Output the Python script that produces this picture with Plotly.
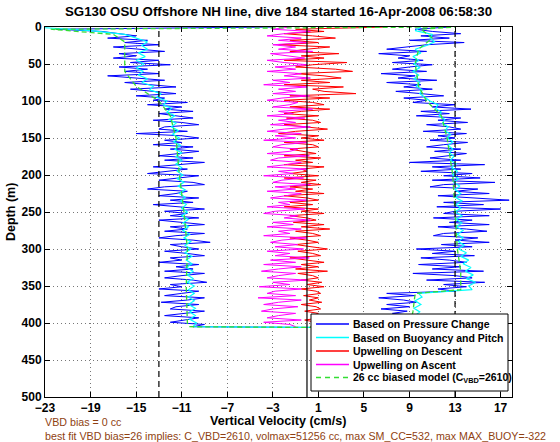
import plotly.graph_objects as go

# ---------------- data ----------------
depth = list(range(0, 406, 3))        # 0..405 m, 136 levels (noisy series)
depth5 = list(range(0, 410, 5))       # 0..405 m, 82 levels (smoother series)

# Based on Pressure Change, descent (cm/s)
blue_desc = [-3, -22, -18, -16.5, -15, -17.5, -14, -16, -13, -17,
             -14.5, -12.5, -16.5, -15, -17, -13, -15.5, -12, -16.5, -14,
             -16, -13, -17.5, -15, -12.5, -16, -14, -11.5, -15.5, -13.5,
             -11.5, -15, -12.5, -13.5, -10.5, -14, -11, -12.5, -10, -13,
             -11.5, -10, -13.5, -11, -9.5, -12.5, -13, -10.5, -15, -11,
             -9.5, -12.5, -11, -13.5, -10, -12, -9.5, -11.5, -13, -10,
             -12.5, -9, -11, -13.5, -10.5, -12, -14, -9.5, -11.5, -13,
             -10, -9, -12.5, -14, -10.5, -11.5, -13, -9.5, -12, -10,
             -13.5, -11, -9, -12.5, -10.5, -12, -9.5, -13, -11, -9,
             -12, -10.5, -12.5, -9, -11.5, -13, -10, -8.5, -12, -11,
             -9.5, -12.5, -10.5, -9, -12, -11, -13, -9.5, -11.5, -10,
             -12.5, -9, -11, -12.5, -10, -8.8, -12, -11, -13, -9.5,
             -11, -12.5, -9, -10.5, -12.8, -9.5, -11.5, -12, -9, -10.5,
             -12.5, -9.5, -11, -12, -9, -10]
# Based on Pressure Change, ascent (listed by depth 0..405)
blue_asc = [12.5, 9.5, 11, 13.5, 10, 12.5, 9, 13.8, 10.5, 8.7,
            7, 10.5, 6.3, 9, 8, 10.2, 7.5, 11, 9, 7.5,
            10.5, 6.5, 9.5, 8, 11.4, 7, 10, 8.5, 11, 7.8,
            10, 12, 8.5, 10.5, 9.3, 13, 11, 14.4, 10, 12.5,
            9.6, 13.5, 11.5, 14.1, 10.5, 12.5, 13.5, 10.2, 14, 11.5,
            13, 10.8, 14.1, 12, 10.5, 13.5, 11.2, 14, 12.5, 10.8,
            13.5, 9, 15.6, 11, 13.5, 10, 14.5, 12, 15.2, 11,
            16.5, 12, 10.8, 15, 13, 16, 11.5, 14.5, 17.75, 12,
            15.5, 11.4, 17, 13, 12, 16, 11.1, 14.5, 12.5, 16,
            11.5, 14, 15.8, 12, 11.1, 15, 13, 16, 11.8, 14.5,
            9.6, 13, 11, 14.7, 10, 12.5, 14, 9.8, 13.5, 11,
            15.5, 9.3, 13, 14.5, 10.5, 15.6, 12, 14, 11.5, 13,
            7, 9.5, 6.3, 8.5, 9.6, 7, 9, 6.5, 8.8, 7.5,
            9.5, 6.8, 8.5, 9.6, 7.2, 8.5]

# Based on Buoyancy and Pitch (5 m levels)
cyan_desc = [-24, -19, -16, -15, -14, -14.5, -14, -14.8, -14.2, -15, -14.3, -15, -14.4, -14.8, -14, -14.5,
             -13.5, -13.8, -12.8, -13.2, -12.3, -12.6, -11.9, -12.3, -11.6, -12.1, -11.5, -11.9, -11.3, -11.8, -11.2, -11.7,
             -11.1, -11.6, -11.0, -11.5, -11.0, -11.5, -11.0, -11.4, -10.9, -11.4, -10.8, -11.3, -10.7, -11.2, -10.7, -11.1,
             -10.6, -11.0, -10.5, -11.0, -10.4, -10.9, -10.4, -10.9, -10.3, -10.8, -10.2, -10.7, -10.2, -10.7, -10.1, -10.6,
             -10.1, -10.6, -10.0, -10.5, -10.0, -10.5, -9.9, -10.4, -9.9, -10.4, -9.9, -10.4, -9.8, -10.3, -9.8, -10.3,
             -9.7, -10]
cyan_asc = [10, 9.5, 11, 10.8, 11.2, 10.5, 9.5, 10, 9.3, 9.8, 9.4, 9.9, 9.3, 9.8, 9.4, 9.9,
            9.6, 10.1, 9.9, 10.4, 10.8, 11.5, 11.3, 11.8, 11.6, 12.1, 11.9, 12.4, 12.1, 12.6, 12.3, 12.8,
            12.4, 12.8, 12.5, 12.9, 12.6, 13.1, 12.7, 13.2, 12.8, 13.3, 12.9, 13.4, 13.0, 13.5, 13.0, 13.6,
            13.1, 13.5, 13.0, 13.6, 13.1, 13.6, 13.1, 13.7, 13.2, 13.7, 13.3, 13.8, 13.3, 14.0, 13.5, 14.2,
            13.7, 14.4, 13.9, 14.6, 14.0, 14.8, 14.2, 14.5, 9.8, 10.1, 9.5, 10.0, 9.4, 9.9, 9.5, 9.9,
            9.4, 9.0]

# Upwelling on Descent (3 m levels)
red_desc = [7, -1, 1.5, -2, 0.5, 2.5, -1.5, 1, -2.5, 2,
            0, -1.5, 2.8, -0.5, 1.5, -2, 3.5, 0.5, -1, 2.5,
            4, -1, 1.5, 3, -0.5, 2, -2, 3.2, 0.5, 1.5,
            4.3, -1.5, 2, -2, 0.5, 1.5, -1.5, 2, -0.5, -2,
            1, -1.8, 0.5, 1.2, -2, 0, 1.8, -1, -2.5, 1,
            -0.5, 1.5, -2, 0.5, 1, -1.5, -0.5, 0.8, -2, 1.2,
            -1, 0.5, -2, 1.5, -0.5, 0, -1.5, 1, -2, 0.8,
            -0.5, 1.2, -1.5, 0.5, -1, 1.5, -2, 0, 1, -1.5,
            0.5, -2, 1, -0.5, 1.5, -1.5, 0, 0.8, -1.2, 1.5,
            -0.5, 2, -1, 0.5, 1.2, -1.5, 0, 1, -1, 0.5,
            1.8, -0.8, 0.5, 1.2, -1.5, 0, 1.5, -0.5, 1, -1,
            1.8, -0.8, 0.5, 1, -0.5, 1.3, 0, 1.5, -0.5, 0.8,
            1.2, -0.3, 1, 0.2, 1.3, -0.5, 0.8, 1.2, -0.2, 1,
            0.5, 1.2, -0.2, 0.8, 1, 0.3]
# Upwelling on Ascent (listed by depth 0..405)
mag_asc = [-1.5, -3, 0.3, -2, -3.5, -0.5, -2.5, 0, -3, -1,
           -2.5, 0.5, -3.2, -1.5, -0.2, -3.5, -2, 0, -2.8, -1,
           -3.5, -0.5, -2, 0.3, -3, -1.5, -3.8, 0, -2.5, -1,
           -3, 0.2, -2.2, -3.5, -0.8, -1.5, -3, 0.5, -2.5, -1.2,
           -3.5, -0.2, -2.5, -1, -3.2, 0.3, -2, -3.5, -0.5, -2.8,
           -1, -3.8, 0, -2.2, -3, -0.8, -1.5, -3.5, 0.2, -2.5,
           -3.2, -0.5, -1.8, -3.5, 0, -2.5, -1.2, -3.8, -0.3, -2.2,
           -3, 0.3, -2.8, -1, -3.5, -0.5, -2, -3.2, 0, -2.5,
           -1.5, -3.5, -0.2, -2.8, -3.8, -0.8, -2, 0.3, -3, -1.2,
           -3.5, -0.5, -2.5, -1.5, -3.8, 0, -2.2, -3.2, -0.8, -2.8,
           -0.3, -3.5, -1.5, -2.8, 0.2, -3.2, -1, -3.8, -0.5, -2.5,
           -4, -1, -2.5, -3.5, 0, -3, -1.5, -4.2, -0.5, -2.8,
           -3.5, -1, -4.3, -0.5, -2.5, -3.8, -0.8, -3, -4, -1,
           -2.5, -3.5, -0.5, -3.8, -1.5, -1]

# 26 cc biased model (smooth)
model_desc_depth = [0, 3, 10, 20, 40, 60, 80, 100, 120, 150, 200, 250, 300, 350, 400, 405]
model_desc = [12, -22.5, -17, -16, -16, -16, -15, -13, -12, -11.5, -11.2, -10.8, -10.5, -10.6, -10.5, -10.3]
model_asc_depth = [0, 3, 15, 30, 50, 80, 100, 120, 150, 200, 250, 300, 330, 355, 360, 385, 405]
model_asc = [13, 10, 11, 9.8, 9.5, 9.8, 10.5, 11.8, 12.3, 12.8, 13, 13.2, 13.5, 13.5, 9.5, 9.3, 9]

bottom_depth = [406]
bottom_v = [0.3]

ref_lines_dashed = [-13, 13]
ref_line_solid = [0]

x_ticks = [-23, -19, -15, -11, -7, -3, 1, 5, 9, 13, 17]
y_ticks = [0, 50, 100, 150, 200, 250, 300, 350, 400, 450, 500]

series_names = ["Based on Pressure Change", "Based on Buoyancy and Pitch", "Upwelling on Descent",
                "Upwelling on Ascent", "26 cc biased model (C<sub>VBD</sub>=2610)"]
series_colors = ["#0000ff", "#00ffff", "#ff0000", "#ff00ff", "#33dd33"]

title = "SG130 OSU Offshore NH line, dive 184 started 16-Apr-2008 06:58:30"
note1 = "VBD bias = 0 cc"
note2 = "best fit VBD bias=26 implies: C_VBD=2610, volmax=51256 cc, max SM_CC=532, max MAX_BUOY=-322"

# ---------------- figure ----------------
W, H = 560, 442
ML, MR, MT, MB = 45, 48, 27, 45
PW, PH = W - ML - MR, H - MT - MB
FONT = "Liberation Sans, Arial, Helvetica, sans-serif"
BROWN = "#8f3f12"


def px(xp):
    return (xp - ML) / PW


def py(yp):
    return (H - MB - yp) / PH


def rev(a):
    return list(reversed(a))


fig = go.Figure()
fig.add_trace(go.Scatter(
    x=blue_desc + bottom_v + rev(blue_asc), y=depth + bottom_depth + rev(depth),
    mode="lines", line=dict(color=series_colors[0], width=1), name=series_names[0]))
fig.add_trace(go.Scatter(
    x=cyan_desc + bottom_v + rev(cyan_asc), y=depth5 + bottom_depth + rev(depth5),
    mode="lines", line=dict(color=series_colors[1], width=1.2), name=series_names[1]))
fig.add_trace(go.Scatter(
    x=red_desc, y=depth, mode="lines", line=dict(color=series_colors[2], width=1), name=series_names[2]))
fig.add_trace(go.Scatter(
    x=rev(mag_asc), y=rev(depth), mode="lines", line=dict(color=series_colors[3], width=1), name=series_names[3]))
fig.add_trace(go.Scatter(
    x=model_desc + bottom_v + rev(model_asc), y=model_desc_depth + bottom_depth + rev(model_asc_depth),
    mode="lines", line=dict(color=series_colors[4], width=1.3, dash="5px,3px"), name=series_names[4]))

for xv in ref_lines_dashed:
    fig.add_shape(type="line", xref="x", yref="paper", x0=xv, x1=xv, y0=0, y1=1,
                  line=dict(color="black", width=1.2, dash="6px,4px"), layer="above")
for xv in ref_line_solid:
    fig.add_shape(type="line", xref="x", yref="paper", x0=xv, x1=xv, y0=0, y1=1,
                  line=dict(color="black", width=1.2), layer="above")

axis_common = dict(showline=True, linecolor="black", linewidth=1, mirror="ticks",
                   ticks="inside", ticklen=5, tickcolor="black",
                   showgrid=True, gridcolor="#777777", griddash="1px,3px", gridwidth=1,
                   zeroline=False,
                   tickfont=dict(family=FONT, size=12, color="black", weight="bold"))

fig.update_xaxes(range=[-23, 18], tickvals=x_ticks,
                 ticktext=[str(v).replace("-", "\u2212") for v in x_ticks], **axis_common)
fig.update_yaxes(range=[500, 0], tickvals=y_ticks, **axis_common)

fig.update_layout(
    width=W, height=H,
    margin=dict(l=ML, r=MR, t=MT, b=MB),
    plot_bgcolor="white", paper_bgcolor="white",
    showlegend=False,
    font=dict(family=FONT),
)

# ----- legend drawn in the Matlab style -----
LX0, LX1, LY0, LY1 = 311, 508, 314, 391
fig.add_shape(type="rect", xref="paper", yref="paper", x0=px(LX0), x1=px(LX1), y0=py(LY1), y1=py(LY0),
              fillcolor="white", line=dict(color="black", width=1), layer="above")
row_y = [324, 337.5, 351, 364.5, 377.5]
for i, (nm, col) in enumerate(zip(series_names, series_colors)):
    dash = "5px,4px" if i == 4 else "solid"
    fig.add_shape(type="line", xref="paper", yref="paper", x0=px(316), x1=px(349),
                  y0=py(row_y[i]), y1=py(row_y[i]), line=dict(color=col, width=1.3, dash=dash), layer="above")
    fig.add_annotation(text=nm, xref="paper", yref="paper", x=px(351), y=py(row_y[i]),
                       xanchor="left", yanchor="middle", showarrow=False,
                       font=dict(family=FONT, size=10.5, color="black", weight="bold"))

# ----- texts -----
fig.add_annotation(text=title, xref="paper", yref="paper", x=0.5, y=1, xanchor="center",
                   yanchor="bottom", yshift=6,
                   showarrow=False, font=dict(family=FONT, size=13.3, color="black", weight="bold"))
fig.add_annotation(text="Vertical Velocity (cm/s)", xref="paper", yref="paper", x=0.5, y=0,
                   xanchor="center", yanchor="middle", yshift=-24,
                   showarrow=False, font=dict(family=FONT, size=12.6, color="black", weight="bold"))
fig.add_annotation(text="Depth (m)", xref="paper", yref="paper", x=0, y=0.5, xanchor="center",
                   yanchor="middle", xshift=-34, textangle=-90,
                   showarrow=False, font=dict(family=FONT, size=12.5, color="black", weight="bold"))
fig.add_annotation(text=note1, xref="paper", yref="paper", x=0, y=0, yanchor="middle", yshift=-25,
                   xanchor="left", xshift=-2,
                   showarrow=False, font=dict(family=FONT, size=10.7, color=BROWN))
fig.add_annotation(text=note2, xref="paper", yref="paper", x=0, y=0, yanchor="middle", yshift=-38.5,
                   xanchor="left", xshift=-2,
                   showarrow=False, font=dict(family=FONT, size=10.7, color=BROWN))

fig.write_html("out.html", config={"displayModeBar": False},
               post_script="document.body.style.margin='0px';document.body.style.overflow='hidden';")
